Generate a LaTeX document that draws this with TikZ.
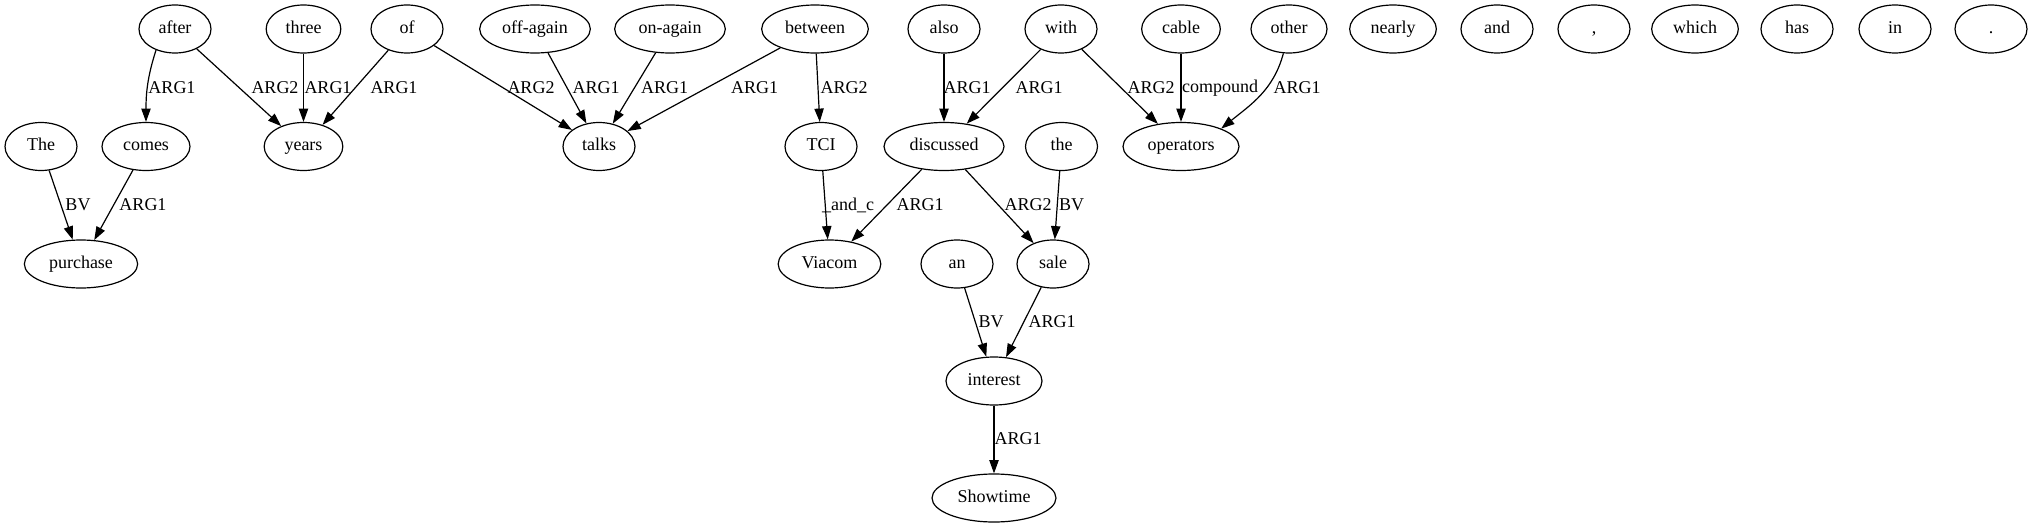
\documentclass[tikz,border=0pt]{standalone}
\usepackage{fontspec}
\setmainfont{Liberation Serif}
\usepackage{tikz}
\usetikzlibrary{shapes.geometric,arrows.meta}
\newcommand{\gvfont}{\fontsize{13.5}{16}\selectfont}

\begin{document}
\begin{tikzpicture}[x=0.75pt,y=0.75pt]
			\tikzstyle{word}=[draw=black, line width=0.9pt, ellipse, inner sep=0pt, minimum width=54pt, minimum height=36pt, text height=9.5pt, text depth=3pt, font=\gvfont]
			\tikzstyle{lbl}=[inner sep=0pt, font=\gvfont]
			\tikzstyle{edge}=[draw=black, line width=0.9pt, -{Triangle[length=10pt,width=7pt]}]
			\useasboundingbox (0,0) rectangle (2032,-528);
			\node [word] (after) at (175,-29) {after};
			\node [word, minimum width=56pt] (three) at (303.5,-29) {three};
			\node [word] (of) at (407,-29) {of};
			\node [word, minimum width=83pt] (offagain) at (535,-29) {off-again};
			\node [word, minimum width=83pt] (onagain) at (670,-29) {on-again};
			\node [word, minimum width=80pt] (between) at (815,-29) {between};
			\node [word] (also) at (944,-29) {also};
			\node [word] (with) at (1061,-29) {with};
			\node [word, minimum width=59pt] (cable) at (1181,-29) {cable};
			\node [word, minimum width=57pt] (other) at (1289,-29) {other};
			\node [word, minimum width=65pt] (nearly) at (1393,-29) {nearly};
			\node [word] (and) at (1497,-29) {and};
			\node [word] (comma) at (1594,-29) {,};
			\node [word, minimum width=65pt] (which) at (1695,-29) {which};
			\node [word] (has) at (1797,-29) {has};
			\node [word] (in) at (1895,-29) {in};
			\node [word] (dot) at (1991,-29) {.};
			\node [word] (The) at (41,-146.5) {The};
			\node [word, minimum width=66pt] (comes) at (146,-146.5) {comes};
			\node [word, minimum width=59pt] (years) at (303.5,-146.5) {years};
			\node [word] (talks) at (599,-146.5) {talks};
			\node [word] (TCI) at (821,-146.5) {TCI};
			\node [word, minimum width=90pt] (discussed) at (944,-146.5) {discussed};
			\node [word] (the) at (1061.5,-146.5) {the};
			\node [word, minimum width=87pt] (operators) at (1181,-146.5) {operators};
			\node [word, minimum width=85pt] (purchase) at (81,-264) {purchase};
			\node [word, minimum width=77pt] (Viacom) at (829.5,-264) {Viacom};
			\node [word] (an) at (957,-264) {an};
			\node [word] (sale) at (1053,-264) {sale};
			\node [word, minimum width=72pt] (interest) at (994,-381) {interest};
			\node [word, minimum width=93pt] (Showtime) at (994,-498) {Showtime};
			\draw [edge] (after.-132) to [out=-108,in=90] (comes.north) node [lbl] at (172,-88) {ARG1};
			\draw [edge] (after) -- (years) node [lbl] at (275,-88) {ARG2};
			\draw [edge] (three) -- (years) node [lbl] at (328,-88) {ARG1};
			\draw [edge] (of) -- (years) node [lbl] at (394,-88) {ARG1};
			\draw [edge] (of) -- (talks) node [lbl] at (531,-88) {ARG2};
			\draw [edge] (offagain) -- (talks) node [lbl] at (596,-88) {ARG1};
			\draw [edge] (onagain) -- (talks) node [lbl] at (664.5,-88) {ARG1};
			\draw [edge] (between) -- (talks) node [lbl] at (754.5,-88) {ARG1};
			\draw [edge] (between) -- (TCI) node [lbl] at (844,-88) {ARG2};
			\draw [edge] (also) -- (discussed) node [lbl] at (967,-88) {ARG1};
			\draw [edge] (with) -- (discussed) node [lbl] at (1039,-88) {ARG1};
			\draw [edge] (with) -- (operators) node [lbl] at (1151,-88) {ARG2};
			\draw [edge] (cable) -- (operators) node [lbl] at (1220,-88) {compound};
			\draw [edge] (other.-103) to [out=-105,in=39] (operators.24) node [lbl] at (1297,-88) {ARG1};
			\draw [edge] (The) -- (purchase) node [lbl] at (78,-205) {BV};
			\draw [edge] (comes) -- (purchase) node [lbl] at (143,-205) {ARG1};
			\draw [edge] (TCI) -- (Viacom) node [lbl] at (848,-205) {\_and\_c};
			\draw [edge] (discussed) -- (Viacom) node [lbl] at (920,-205) {ARG1};
			\draw [edge] (discussed) -- (sale) node [lbl] at (1028,-205) {ARG2};
			\draw [edge] (the) -- (sale) node [lbl] at (1071.5,-205) {BV};
			\draw [edge] (an) -- (interest) node [lbl] at (991,-322) {BV};
			\draw [edge] (sale) -- (interest) node [lbl] at (1052,-322) {ARG1};
			\draw [edge] (interest) -- (Showtime) node [lbl] at (1018,-439) {ARG1};
			\end{tikzpicture}
\end{document}
